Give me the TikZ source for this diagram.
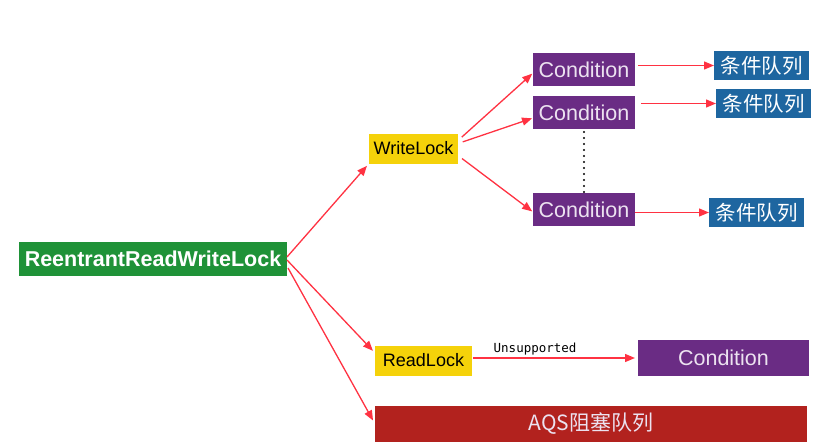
\documentclass[tikz,border=0pt]{standalone}
\usepackage{fontspec}
\setmainfont{Liberation Sans}
\newfontfamily\cjk{Noto Sans CJK SC}
\newfontfamily\monofont{DejaVu Sans Mono}
\usetikzlibrary{arrows.meta}

\definecolor{lockgreen}{RGB}{31,146,56}
\definecolor{lockyellow}{RGB}{245,210,10}
\definecolor{condpurple}{RGB}{106,44,132}
\definecolor{queueblue}{RGB}{30,102,160}
\definecolor{aqsred}{RGB}{178,34,30}
\definecolor{arrowred}{RGB}{255,50,66}
\definecolor{condtext}{RGB}{236,226,240}

\tikzset{
  box/.style={inner sep=0pt, outer sep=0pt},
  mainbox/.style={box, fill=lockgreen, text=white, minimum width=268pt, minimum height=34pt,
    font=\fontsize{21.5}{24}\selectfont\bfseries},
  lockbox/.style={box, fill=lockyellow, text=black, minimum height=30pt,
    font=\fontsize{18}{20}\selectfont},
  condbox/.style={box, fill=condpurple, text=condtext, minimum height=33pt,
    font=\fontsize{21.5}{24}\selectfont},
  queuebox/.style={box, fill=queueblue, text=white, minimum width=95pt, minimum height=29pt,
    font=\cjk\fontsize{20.5}{23}\selectfont},
  link/.style={->, draw=arrowred, line width=1.3pt}
}

\begin{document}
\begin{tikzpicture}[x=1pt, y=-1pt, >={Triangle[length=10pt,width=8pt]}]
\useasboundingbox (0,0) rectangle (839,447);

\node [mainbox] (rrwl) at (153,259) {ReentrantReadWriteLock};
\node [lockbox, minimum width=89pt] (wlock) at (413.5,148.5) {WriteLock};
\node [lockbox, minimum width=97pt] (rlock) at (423.5,360.5) {ReadLock};

\node [condbox, minimum width=102pt] (cond1) at (584,69.5) {Condition};
\node [condbox, minimum width=102pt] (cond2) at (584,112.5) {Condition};
\node [condbox, minimum width=102pt] (cond3) at (584,209.5) {Condition};
\node [condbox, minimum width=171pt, minimum height=36pt] (cond4) at (723.5,358) {Condition};

\node [queuebox] (q1) at (761.5,65.5) {条件队列};
\node [queuebox] (q2) at (763.5,103.5) {条件队列};
\node [queuebox] (q3) at (756.5,212.5) {条件队列};

\node [box, fill=aqsred, text=condtext, minimum width=432pt, minimum height=36pt,
  font=\cjk\fontsize{21}{24}\selectfont] (aqs) at (591,424) {AQS阻塞队列};

% from the lock
\draw [link, shorten >=3pt] ([yshift=2pt]rrwl.east) -- (wlock.south west);
\draw [link, shorten >=3pt] ([yshift=-1pt]rrwl.east) -- ([yshift=7.5pt]rlock.west);
\draw [link, shorten >=4pt] ([xshift=1pt,yshift=-9pt]rrwl.east) -- (aqs.west);

% write lock conditions
\draw [link, shorten <=5pt, shorten >=1pt] ([yshift=8pt]wlock.east) -- ([yshift=-3.5pt]cond1.west);
\draw [link, shorten <=5pt, shorten >=1pt] ([yshift=5pt]wlock.east) -- ([yshift=-5.5pt]cond2.west);
\draw [link, shorten <=5pt, shorten >=1pt] ([yshift=-7pt]wlock.east) -- ([yshift=-2.5pt]cond3.west);
\draw [line width=2.3pt, line cap=round, dash pattern=on 0pt off 6pt, shorten <=3pt]
  (cond2.south) -- (cond3.north);

\draw [link, shorten <=3pt] (cond1.east |- q1.west) -- (q1.west);
\draw [link, shorten <=6pt] (cond2.east |- q2.west) -- (q2.west);
\draw [link] (cond3.east |- q3.west) -- (q3.west);

% read lock
\draw [link, shorten <=1pt, shorten >=3pt] (rlock.east |- cond4.west) -- (cond4.west)
  node [pos=0.38, above=-1pt, text=black, font=\monofont\fontsize{12.5}{14}\selectfont] (unsup) {Unsupported};
\end{tikzpicture}
\end{document}
